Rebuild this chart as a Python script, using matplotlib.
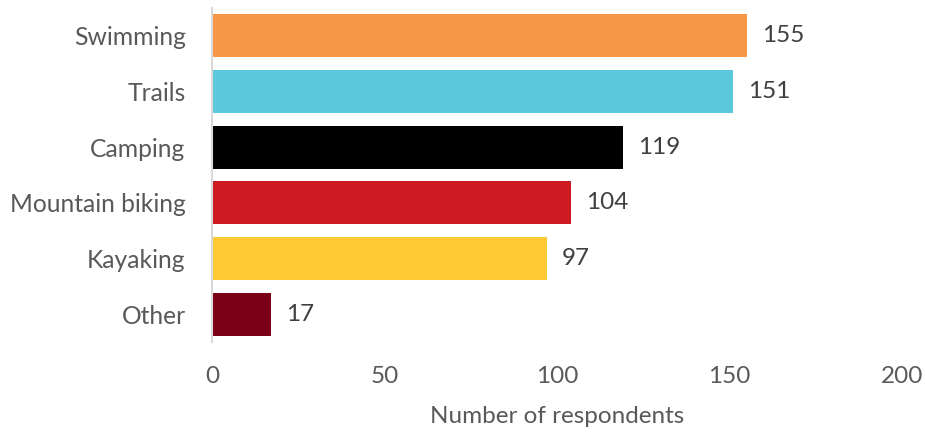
import matplotlib
matplotlib.use("Agg")
import matplotlib.pyplot as plt

categories = ["Swimming", "Trails", "Camping", "Mountain biking", "Kayaking", "Other"]
values = [155, 151, 119, 104, 97, 17]
colors = ["#F79646", "#5BC8DB", "#000000", "#CE1B23", "#FFCA33", "#7A0019"]
xticks = [0, 50, 100, 150, 200]

plt.rcParams["font.family"] = ["Lato", "DejaVu Sans"]

W, H = 925, 433
fig = plt.figure(figsize=(W / 100, H / 100), dpi=100)
ax = fig.add_axes([212 / W, 1 - 342.4 / H, (902 - 212) / W, (342.4 - 7.6) / H])

y = list(range(len(categories)))
ax.barh(y, values, height=0.77, color=colors)
ax.set_ylim(len(categories) - 0.5, -0.5)
ax.set_xlim(0, 200)
ax.set_yticks(y)
ax.set_yticklabels(categories, fontsize=17.7, color="#595959")
ax.set_xticks(xticks)
ax.set_xticklabels([str(t) for t in xticks], fontsize=17.5, color="#595959")
ax.tick_params(axis="both", length=0)
ax.tick_params(axis="y", pad=19)
ax.tick_params(axis="x", pad=17)
for s in ["top", "right", "bottom"]:
    ax.spines[s].set_visible(False)
ax.spines["left"].set_color("#D9D9D9")
ax.spines["left"].set_linewidth(1.5)

for yi, v in zip(y, values):
    ax.text(v + 4.5, yi, str(v), va="center", ha="left", fontsize=17.5, color="#404040")

ax.set_xlabel("Number of respondents", fontsize=17.5, color="#595959")
ax.xaxis.set_label_coords((557 - 212) / (902 - 212), -0.19)

fig.savefig("out.png", dpi=100)
